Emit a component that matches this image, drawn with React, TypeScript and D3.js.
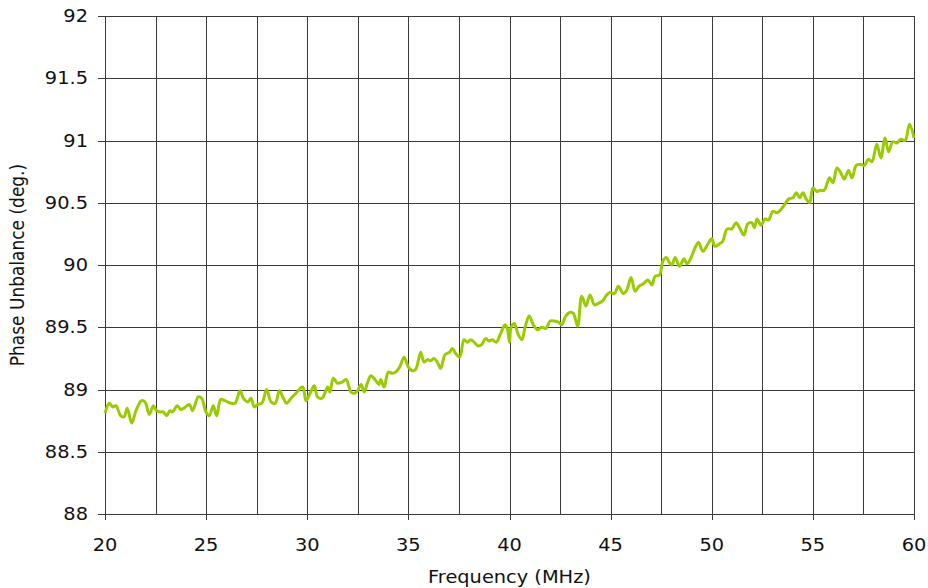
import React, { useEffect, useRef } from 'react';
import * as d3 from 'd3';

// Frequency (MHz) sample points
const freq = [
  20.0, 20.21, 20.38, 20.54, 20.77, 20.94, 21.1, 21.32, 21.53, 21.81, 21.98, 22.19, 22.39, 22.55,
  22.72, 22.88, 23.05, 23.21, 23.34, 23.57, 23.74, 23.9, 24.17, 24.33, 24.61, 24.78, 24.99, 25.16,
  25.35, 25.52, 25.72, 25.93, 26.21, 26.43, 26.68, 26.84, 27.06, 27.22, 27.38, 27.55, 27.76, 27.99,
  28.21, 28.42, 28.62, 28.82, 28.98, 29.2, 29.44, 29.77, 29.94, 30.14, 30.35, 30.51, 30.73, 31.01,
  31.12, 31.29, 31.5, 31.72, 31.92, 32.16, 32.33, 32.49, 32.66, 32.82, 32.99, 33.15, 33.35, 33.55,
  33.63, 33.8, 34.01, 34.21, 34.38, 34.57, 34.79, 35.0, 35.2, 35.36, 35.61, 35.77, 35.94, 36.1,
  36.27, 36.43, 36.6, 36.81, 37.04, 37.17, 37.34, 37.54, 37.75, 37.92, 38.08, 38.25, 38.46, 38.62,
  38.82, 38.99, 39.15, 39.35, 39.56, 39.78, 39.89, 40.0, 40.08, 40.24, 40.41, 40.61, 40.77, 40.97,
  41.18, 41.4, 41.59, 41.79, 42.01, 42.22, 42.42, 42.58, 42.78, 43.0, 43.16, 43.37, 43.57, 43.78,
  43.98, 44.2, 44.36, 44.59, 44.81, 44.97, 45.19, 45.38, 45.63, 45.8, 46.01, 46.21, 46.41, 46.62,
  46.84, 47.04, 47.2, 47.42, 47.58, 47.75, 47.91, 48.03, 48.19, 48.41, 48.62, 48.79, 48.98, 49.15,
  49.35, 49.56, 49.81, 50.0, 50.16, 50.38, 50.54, 50.76, 50.99, 51.2, 51.37, 51.59, 51.78, 51.98,
  52.11, 52.24, 52.44, 52.64, 52.8, 53.02, 53.23, 53.39, 53.58, 53.8, 54.01, 54.18, 54.34, 54.51,
  54.67, 54.84, 55.0, 55.2, 55.36, 55.56, 55.82, 55.99, 56.19, 56.38, 56.55, 56.76, 56.93, 57.14,
  57.34, 57.54, 57.75, 57.92, 58.16, 58.36, 58.57, 58.74, 58.95, 59.15, 59.35, 59.56, 59.78, 60.0,
];

// Phase unbalance (deg.) at each frequency above
const phase = [
  88.81, 88.89, 88.86, 88.87, 88.79, 88.78, 88.85, 88.73, 88.83, 88.91, 88.9, 88.8, 88.87, 88.83,
  88.82, 88.82, 88.79, 88.83, 88.82, 88.87, 88.84, 88.85, 88.88, 88.83, 88.94, 88.93, 88.82, 88.79,
  88.87, 88.79, 88.92, 88.91, 88.89, 88.89, 88.99, 88.93, 88.9, 88.93, 88.86, 88.88, 88.89, 89.0,
  88.9, 88.89, 88.99, 88.93, 88.89, 88.93, 88.97, 89.02, 88.91, 88.97, 89.03, 88.94, 88.93, 89.02,
  88.98, 89.09, 89.05, 89.06, 89.08, 88.98, 88.97, 88.99, 89.04, 88.98, 89.06, 89.11, 89.08, 89.04,
  89.08, 89.02, 89.14, 89.13, 89.14, 89.18, 89.26, 89.18, 89.15, 89.16, 89.3, 89.22, 89.24, 89.23,
  89.25, 89.22, 89.17, 89.28, 89.3, 89.33, 89.29, 89.26, 89.4, 89.38, 89.4, 89.38, 89.35, 89.36,
  89.41, 89.39, 89.4, 89.38, 89.45, 89.52, 89.49, 89.38, 89.5, 89.53, 89.45, 89.4, 89.5, 89.59,
  89.52, 89.48, 89.5, 89.49, 89.55, 89.55, 89.54, 89.52, 89.59, 89.62, 89.61, 89.51, 89.75, 89.67,
  89.76, 89.68, 89.69, 89.71, 89.76, 89.78, 89.77, 89.83, 89.77, 89.8, 89.9, 89.79, 89.83, 89.85,
  89.88, 89.84, 89.91, 89.92, 90.03, 90.06, 90.02, 90.0, 90.06, 89.99, 90.05, 90.01, 90.06, 90.13,
  90.18, 90.11, 90.17, 90.21, 90.15, 90.17, 90.19, 90.29, 90.29, 90.34, 90.3, 90.24, 90.33, 90.34,
  90.3, 90.37, 90.32, 90.37, 90.36, 90.43, 90.42, 90.44, 90.48, 90.53, 90.54, 90.58, 90.54, 90.58,
  90.53, 90.5, 90.62, 90.59, 90.6, 90.6, 90.7, 90.66, 90.78, 90.74, 90.69, 90.76, 90.7, 90.8,
  90.81, 90.8, 90.85, 90.83, 90.97, 90.86, 91.02, 90.91, 90.99, 90.98, 91.01, 91.0, 91.13, 91.02,
];

const xGridTicks = d3.range(20, 60.01, 2.5);
const xLabelTicks = [20, 25, 30, 35, 40, 45, 50, 55, 60];
const yTicks = [88, 88.5, 89, 89.5, 90, 90.5, 91, 91.5, 92];

const width = 928;
const height = 588;
const margin = { top: 16, right: 14, bottom: 74, left: 105 };

const App: React.FC = () => {
  const svgRef = useRef<SVGSVGElement>(null);

  useEffect(() => {
    document.body.style.margin = '0';
    if (!svgRef.current) return;

    const svg = d3.select(svgRef.current);
    svg.selectAll('*').remove();

    const x = d3.scaleLinear().domain([20, 60]).range([margin.left, width - margin.right]);
    const y = d3.scaleLinear().domain([88, 92]).range([height - margin.bottom, margin.top]);

    const font = '"DejaVu Sans", Verdana, sans-serif';
    const fontSize = 17;
    const stretch = 1.14; // the source chart's text is a little wider than tall
    const gridColor = '#3a3a3a';

    // vertical grid
    svg.append('g')
      .selectAll('line')
      .data(xGridTicks)
      .enter()
      .append('line')
      .attr('x1', d => Math.round(x(d)) + 0.5)
      .attr('x2', d => Math.round(x(d)) + 0.5)
      .attr('y1', y(92))
      .attr('y2', y(88))
      .attr('stroke', gridColor)
      .attr('stroke-width', 1);

    // horizontal grid (with left tick stubs)
    svg.append('g')
      .selectAll('line')
      .data(yTicks)
      .enter()
      .append('line')
      .attr('x1', x(20) - 7)
      .attr('x2', x(60))
      .attr('y1', d => Math.round(y(d)) + 0.5)
      .attr('y2', d => Math.round(y(d)) + 0.5)
      .attr('stroke', gridColor)
      .attr('stroke-width', 1);

    // bottom tick stubs
    svg.append('g')
      .selectAll('line')
      .data(xLabelTicks)
      .enter()
      .append('line')
      .attr('x1', d => Math.round(x(d)) + 0.5)
      .attr('x2', d => Math.round(x(d)) + 0.5)
      .attr('y1', y(88))
      .attr('y2', y(88) + 6)
      .attr('stroke', gridColor)
      .attr('stroke-width', 1);

    // y tick labels
    svg.append('g')
      .selectAll('text')
      .data(yTicks)
      .enter()
      .append('text')
      .attr('transform', d => `translate(${x(20) - 17},${y(d)}) scale(${stretch},1)`)
      .attr('dy', '0.36em')
      .attr('text-anchor', 'end')
      .attr('font-family', font)
      .attr('font-size', fontSize)
      .attr('fill', '#111')
      .text(d => String(d));

    // x tick labels
    svg.append('g')
      .selectAll('text')
      .data(xLabelTicks)
      .enter()
      .append('text')
      .attr('transform', d => `translate(${x(d)},${y(88) + 37}) scale(${stretch},1)`)
      .attr('text-anchor', 'middle')
      .attr('font-family', font)
      .attr('font-size', fontSize)
      .attr('fill', '#111')
      .text(d => String(d));

    // axis titles
    svg.append('text')
      .attr('transform', `translate(${(x(20) + x(60)) / 2},${height - 5}) scale(${stretch},1)`)
      .attr('text-anchor', 'middle')
      .attr('font-family', font)
      .attr('font-size', fontSize)
      .attr('fill', '#111')
      .text('Frequency (MHz)');

    svg.append('text')
      .attr('transform', `translate(24,${(y(88) + y(92)) / 2}) scale(${stretch},1) rotate(-90)`)
      .attr('text-anchor', 'middle')
      .attr('font-family', font)
      .attr('font-size', fontSize)
      .attr('fill', '#111')
      .text('Phase Unbalance (deg.)');

    // data line
    const line = d3.line<number>()
      .x((_, i) => x(freq[i]))
      .y(d => y(d))
      .curve(d3.curveCatmullRom.alpha(0.5));

    svg.append('path')
      .datum(phase)
      .attr('d', line)
      .attr('fill', 'none')
      .attr('stroke', '#99cc00')
      .attr('stroke-width', 3)
      .attr('stroke-linejoin', 'round');
  }, []);

  return <svg ref={svgRef} width={width} height={height} style={{ display: 'block' }} />;
};

export default App;
